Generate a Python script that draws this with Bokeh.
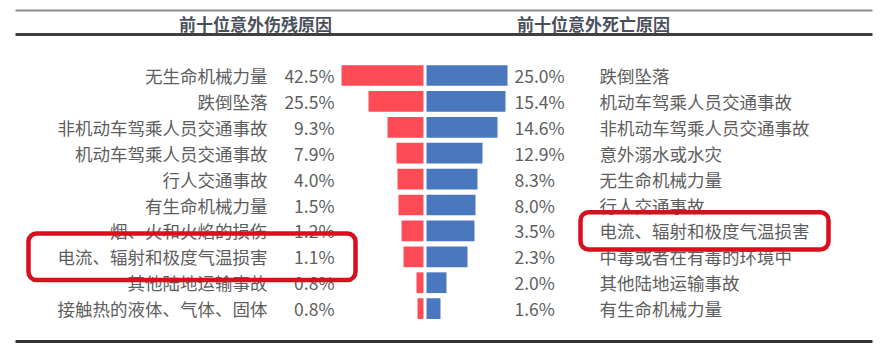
from bokeh.plotting import figure
from bokeh.models import ColumnDataSource, Range1d, BoxAnnotation
from bokeh.core.properties import value
from bokeh.embed import file_html
from bokeh.resources import INLINE

# ---------------- data ----------------
left_title = "前十位意外伤残原因"
right_title = "前十位意外死亡原因"

left_labels = ["无生命机械力量", "跌倒坠落", "非机动车驾乘人员交通事故", "机动车驾乘人员交通事故",
               "行人交通事故", "有生命机械力量", "烟、火和火焰的损伤", "电流、辐射和极度气温损害",
               "其他陆地运输事故", "接触热的液体、气体、固体"]
left_values = [42.5, 25.5, 9.3, 7.9, 4.0, 1.5, 1.2, 1.1, 0.8, 0.8]
# drawn bar lengths (the picture's bars are not proportional)
left_bar = [82, 55, 36, 27, 26, 25, 22, 20, 7, 6]

right_labels = ["跌倒坠落", "机动车驾乘人员交通事故", "非机动车驾乘人员交通事故", "意外溺水或水灾",
                "无生命机械力量", "行人交通事故", "电流、辐射和极度气温损害", "中毒或者在有毒的环境中",
                "其他陆地运输事故", "有生命机械力量"]
right_values = [25.0, 15.4, 14.6, 12.9, 8.3, 8.0, 3.5, 2.3, 2.0, 1.6]
right_bar = [81, 79, 71, 56, 51, 49, 48, 41, 20, 14]

highlight = "电流、辐射和极度气温损害"

# ---------------- styles ----------------
RED = "#FF4B55"
BLUE = "#4A78BE"
TXT = "#5e5e5e"
TITLE = "#4a505c"
FONT = value("Noto Sans CJK SC")
GAP = 1.5

rows = list(range(len(left_labels)))

src = ColumnDataSource(dict(
    y=rows,
    l_left=[-GAP - b for b in left_bar], l_right=[-GAP] * len(rows),
    r_left=[GAP] * len(rows), r_right=[GAP + b for b in right_bar],
    l_lab=left_labels, r_lab=right_labels,
    l_pct=[f"{v:.1f}%" for v in left_values],
    r_pct=[f"{v:.1f}%" for v in right_values],
))

p = figure(width=886, height=352, x_range=Range1d(-424.5, 461.5),
           y_range=Range1d(10.695, -2.896), output_backend="svg",
           toolbar_location=None, min_border=0)
p.axis.visible = False
p.grid.visible = False
p.outline_line_color = None
p.background_fill_color = "white"
p.border_fill_color = "white"

# bars
p.hbar(y="y", left="l_left", right="l_right", height=0.8, source=src,
       fill_color=RED, line_color=None)
p.hbar(y="y", left="r_left", right="r_right", height=0.8, source=src,
       fill_color=BLUE, line_color=None)

# texts
common = dict(source=src, text_font=FONT, text_font_size="17.5px",
              text_color=TXT, text_baseline="middle")
p.text(x=-157.5, y="y", text="l_lab", text_align="right", **common)
p.text(x=-90.5, y="y", text="l_pct", text_align="right", **common)
p.text(x=89.5, y="y", text="r_pct", text_align="left", **common)
p.text(x=174.5, y="y", text="r_lab", text_align="left", **common)

# titles
p.text(x=[-169.5, 168.5], y=[-2.0, -2.0], text=[left_title, right_title],
       text_font=FONT, text_font_size="17px", text_font_style="bold",
       text_color=TITLE, text_align="center", text_baseline="middle")

# rules
p.segment(x0=[-409.5], y0=[-2.506], x1=[447.5], y1=[-2.506], line_color="#8c8c8c", line_width=2)
p.segment(x0=[-409.5], y0=[-1.583], x1=[447.5], y1=[-1.583], line_color="#3f3f3f", line_width=3)
p.segment(x0=[-409.5], y0=[10.27], x1=[447.5], y1=[10.27], line_color="#333333", line_width=3)

# highlight boxes
li = left_labels.index(highlight)
ri = right_labels.index(highlight)
p.add_layout(BoxAnnotation(left=-396.5, right=-69.5, top=li - 0.9, bottom=li + 0.9,
                           fill_alpha=0, line_color="#d8101c", line_alpha=1.0,
                           line_width=4.5, border_radius=8))
p.add_layout(BoxAnnotation(left=155.5, right=403.5, top=ri - 0.72, bottom=ri + 0.72,
                           fill_alpha=0, line_color="#d8101c", line_alpha=1.0,
                           line_width=4.5, border_radius=8))

open("out.html", "w").write(file_html(p, INLINE))
